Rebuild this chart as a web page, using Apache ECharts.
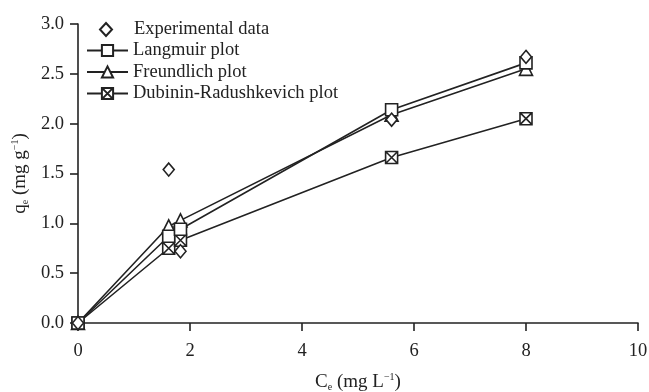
<!DOCTYPE html>
<html><head><meta charset="utf-8">
<script src="https://cdn.jsdelivr.net/npm/echarts@6/dist/echarts.min.js"></script>
<style>html,body{margin:0;padding:0;background:#fff}#c{width:649px;height:392px}</style>
</head><body><div id="c"></div>
<script>
const expX = [0, 1.62, 1.83, 5.6, 8.0];
const expY = [0, 1.54, 0.72, 2.04, 2.67];
const fitX = [0, 1.62, 1.83, 5.6, 8.0];
const langY = [0, 0.87, 0.94, 2.14, 2.61];
const freuY = [0, 0.97, 1.03, 2.09, 2.55];
const drY = [0, 0.75, 0.83, 1.66, 2.05];
const xTicks = [0, 2, 4, 6, 8, 10];
const yTicks = [0.0, 0.5, 1.0, 1.5, 2.0, 2.5, 3.0];
const names = ['Experimental data', 'Langmuir plot', 'Freundlich plot', 'Dubinin-Radushkevich plot'];

const FONT = 'Liberation Serif';
const pair = (xs, ys) => xs.map((x, i) => [x, ys[i]]);
const xbox = 'path://M0,0L10,0L10,10L0,10ZM0,0L10,10M10,0L0,10';
const markerStyle = {color: '#fff', borderColor: '#222', borderWidth: 1.6, opacity: 1};
const lineStyle = {color: '#222', width: 1.6};

function lineSeries(name, ys, symbol, size) {
  return {
    name, type: 'line', data: pair(fitX, ys), symbol, symbolSize: size,
    showAllSymbol: true, lineStyle, itemStyle: markerStyle, z: 3, animation: false
  };
}
const legendText = {fontFamily: FONT, fontSize: 18.5, color: '#222', lineHeight: 18};
const rich = {
  i: {fontFamily: FONT, fontSize: 19, color: '#222', lineHeight: 22},
  s: {fontFamily: FONT, fontSize: 10, color: '#222', padding: [10, 0, 0, 0]},
  p: {fontFamily: FONT, fontSize: 10, color: '#222', padding: [0, 0, 10, 0]}
};

const chart = echarts.init(document.getElementById('c'), null, {renderer: 'canvas'});
chart.setOption({
  backgroundColor: '#fff',
  animation: false,
  textStyle: {fontFamily: FONT, color: '#222'},
  grid: {left: 78, right: 11, top: 24, bottom: 69, containLabel: false, outerBoundsMode: 'none'},
  legend: [{
    orient: 'vertical', left: 99, top: 20, padding: 0, itemWidth: 12, itemHeight: 13, itemGap: 0,
    textStyle: Object.assign({}, legendText, {padding: [0, 0, 0, 17]}),
    data: [names[0]]
  }, {
    orient: 'vertical', left: 86, top: 41, padding: 0, itemWidth: 41, itemHeight: 14, itemGap: 2.5,
    textStyle: legendText,
    data: names.slice(1)
  }],
  xAxis: {
    type: 'value', min: 0, max: 10, interval: 2,
    name: '{i|C}{s|e}{i| (mg L}{p|−1}{i|)}', nameLocation: 'middle', nameGap: 48,
    nameTextStyle: {rich},
    axisLine: {show: true, onZero: false, lineStyle: {color: '#222', width: 1.6}},
    axisTick: {show: true, inside: false, length: 8, lineStyle: {color: '#222', width: 1.6}},
    axisLabel: {fontFamily: FONT, fontSize: 18.5, color: '#222', margin: 19,
      formatter: v => xTicks.includes(v) ? String(v) : ''},
    splitLine: {show: false}
  },
  yAxis: {
    type: 'value', min: 0, max: 3, interval: 0.5,
    name: '{i|q}{s|e}{i| (mg g}{p|−1}{i|)}', nameLocation: 'middle', nameGap: 40, nameRotate: 90,
    nameTextStyle: {rich},
    axisLine: {show: true, onZero: false, lineStyle: {color: '#222', width: 1.6}},
    axisTick: {show: true, inside: false, length: 8, lineStyle: {color: '#222', width: 1.6}},
    axisLabel: {fontFamily: FONT, fontSize: 18.5, color: '#222', margin: 14,
      formatter: v => yTicks.find(t => Math.abs(t - v) < 1e-9).toFixed(1)},
    splitLine: {show: false}
  },
  series: [
    lineSeries(names[3], drY, xbox, 12),
    lineSeries(names[2], freuY, 'triangle', 13),
    lineSeries(names[1], langY, 'rect', 12),
    {name: names[0], type: 'scatter', data: pair(expX, expY), symbol: 'diamond', symbolSize: [11, 13],
      itemStyle: markerStyle, z: 4, animation: false}
  ]
});
</script></body></html>
